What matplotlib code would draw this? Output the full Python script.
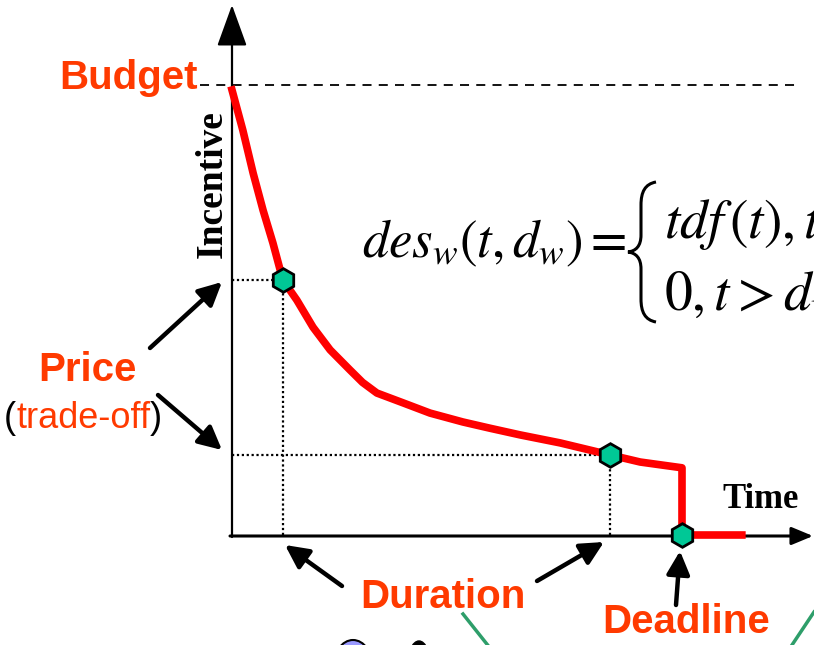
import matplotlib
matplotlib.use("Agg")
import matplotlib.pyplot as plt
from matplotlib.path import Path
from matplotlib.patches import PathPatch, Ellipse

plt.rcParams.update({"mathtext.fontset": "stix"})

# incentive curve (time, incentive); deadline = 10, budget ~ 10
time = [0.0, 0.24, 0.47, 0.69, 0.91, 1.13, 1.44, 1.80, 2.18, 2.62, 2.90, 3.22, 3.80,
        4.40, 5.13, 5.73, 6.40, 7.29, 8.40, 9.07, 10.0, 10.0, 11.33]
incentive = [10.0, 9.10, 8.13, 7.30, 6.56, 5.73, 5.28, 4.67, 4.16, 3.71, 3.43, 3.19, 2.97,
             2.74, 2.54, 2.40, 2.25, 2.07, 1.80, 1.64, 1.51, 0.0, 0.0]
budget = 10.11
deadline = 10.0
price_t = [1.13, 8.40]
price_v = [5.73, 1.80]

C_ORANGE = "#ff3a00"
C_MARK = "#00c896"


def P(x, y):
    # reference pixel -> data coords (origin at pixel 232,535)
    return ((x - 232) / 45.0, (535 - y) / 44.5)


fig = plt.figure(figsize=(8.14, 6.45), dpi=100)
ax = fig.add_axes([0, 0, 1, 1])
x0, y0 = P(0, 645)
x1, y1 = P(814, 0)
ax.set_xlim(x0, x1)
ax.set_ylim(y0, y1)
ax.axis("off")

# axes with arrows
ax.annotate("", xy=P(232, 5), xytext=P(232, 537),
            arrowprops=dict(arrowstyle="-|>,head_length=1.3,head_width=0.47",
                            mutation_scale=20, color="black", lw=1.6,
                            shrinkA=0, shrinkB=0))
ax.annotate("", xy=P(813, 536), xytext=P(230, 536),
            arrowprops=dict(arrowstyle="-|>,head_length=0.65,head_width=0.27",
                            mutation_scale=20, color="black", lw=2.2,
                            shrinkA=0, shrinkB=0))

# budget line
ax.plot([P(200, 0)[0], P(795, 0)[0]], [budget, budget], color="black",
        ls=(0, (5, 4)), lw=1.3)

# dotted guides
for t, v in zip(price_t, price_v):
    ax.plot([0, t], [v, v], color="black", ls=(0, (1, 1.2)), lw=1.6)
    ax.plot([t, t], [0, v], color="black", ls=(0, (1, 1.2)), lw=1.6)

# incentive curve
ax.plot(time, incentive, color="#ff0000", lw=5.5, solid_joinstyle="round", zorder=3)
ax.plot(price_t + [deadline], price_v + [0.0], ls="none", marker="h", ms=17,
        mfc=C_MARK, mec="black", mew=2, zorder=4)

# labels
bold = dict(family="Liberation Sans", weight="bold", color=C_ORANGE, fontsize=29)
ax.text(*P(198, 78), "Budget", ha="right", va="center", **bold)
ax.text(*P(87, 370), "Price", ha="center", va="center", **bold)
ax.text(*P(443, 597), "Duration", ha="center", va="center", **bold)
ax.text(*P(686, 622), "Deadline", ha="center", va="center", **bold)
reg = dict(family="Liberation Sans", fontsize=26)
t_open = ax.text(*P(4, 418), "(", ha="left", va="center", color="black", **reg)
t_mid = ax.annotate("trade-off", xy=(1, 0), xycoords=t_open, ha="left", va="bottom",
                    color=C_ORANGE, **reg)
ax.annotate(")", xy=(1, 0), xycoords=t_mid, ha="left", va="bottom", color="black", **reg)

serif = dict(family="Liberation Serif", weight="bold", color="black")
ax.text(*P(212, 184), "Incentive", rotation=90, ha="center", va="center",
        fontsize=27, **serif)
ax.text(*P(761, 500), "Time", ha="center", va="center", fontsize=25, **serif)

# callout arrows
arrow = dict(arrowstyle="-|>,head_length=0.7,head_width=0.35", mutation_scale=20,
             color="black", lw=3.2, shrinkA=0, shrinkB=0)
for tail, head in [((150, 348), (222, 282)), ((158, 395), (222, 450)),
                   ((342, 586), (285, 545)), ((537, 581), (604, 542)),
                   ((676, 605), (680, 551))]:
    ax.annotate("", xy=P(*head), xytext=P(*tail), arrowprops=arrow)

# formula
ax.text(*P(362, 257), r"$des_w(t,d_w)=$", ha="left", va="baseline", fontsize=38)
ax.text(*P(664, 238), r"$tdf\,(t),t\leq d_w$", ha="left", va="baseline", fontsize=40)
ax.text(*P(664, 310), r"$0,t>d_w$", ha="left", va="baseline", fontsize=40)
brace = [(656, 182), (645, 184), (641, 192), (641, 205), (641, 235),
         (641, 246), (636, 251), (628, 252), (636, 253), (641, 258), (641, 269),
         (641, 299), (641, 312), (645, 320), (656, 322)]
codes = [Path.MOVETO, Path.CURVE4, Path.CURVE4, Path.CURVE4, Path.LINETO,
         Path.CURVE4, Path.CURVE4, Path.CURVE4, Path.CURVE4, Path.CURVE4, Path.CURVE4,
         Path.LINETO, Path.CURVE4, Path.CURVE4, Path.CURVE4]
ax.add_patch(PathPatch(Path([P(*p) for p in brace], codes), fill=False,
                       lw=2.2, color="black"))

# bits of the next drawing peeking in at the bottom
ax.add_patch(Ellipse(P(353, 668), 40 / 45, 56 / 44.5, fc="#9999ff", ec="black", lw=1.5))
ax.add_patch(Ellipse(P(419, 668), 24 / 45, 54 / 44.5, fc="black", ec="black"))
ax.plot(*zip(P(463, 614), P(490, 648)), color="#2e9e6a", lw=2.5)
ax.plot(*zip(P(814, 612), P(790, 648)), color="#2e9e6a", lw=2.5)

fig.savefig("out.png", dpi=100)
